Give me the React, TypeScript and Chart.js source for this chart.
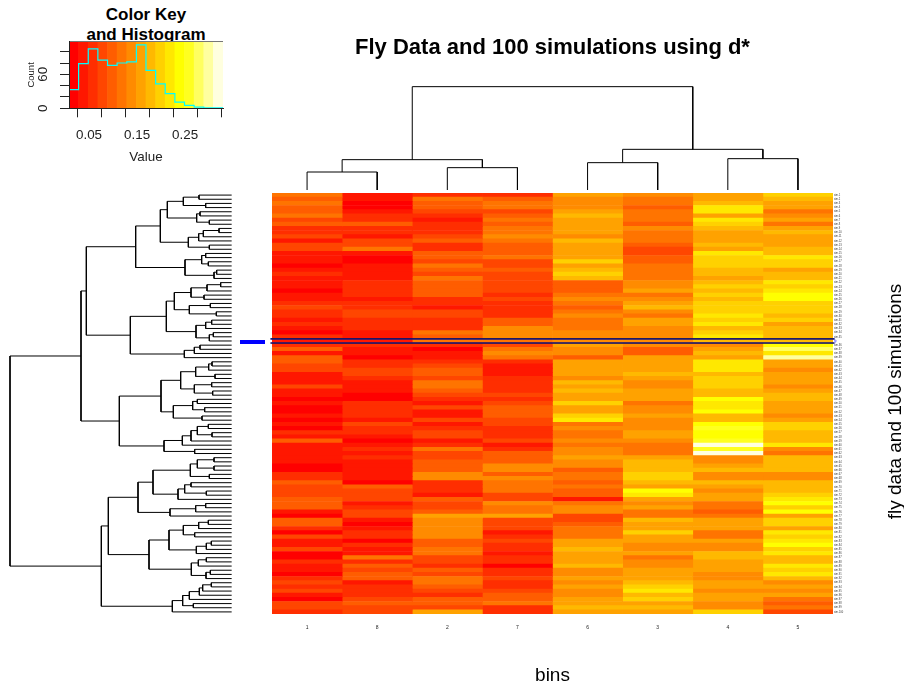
import React, { useEffect, useRef } from "react";
import { Chart, registerables } from "chart.js";

Chart.register(...registerables);

const FONT = "'Liberation Sans', Arial, Helvetica, sans-serif";

// heat.colors(16)
const heatColors = [
  "#FF0000", "#FF1700", "#FF2E00", "#FF4600", "#FF5D00", "#FF7400", "#FF8B00", "#FFA200",
  "#FFB900", "#FFD100", "#FFE800", "#FFFF00", "#FFFF20", "#FFFF60", "#FFFF9F", "#FFFFDF",
];

const columnLabels = ["1", "8", "2", "7", "6", "3", "4", "5"];
const flyRow = 35;
const rowLabels: string[] = Array.from({ length: 101 }, (_, i) =>
  i === flyRow ? "fly" : `sim.${i < flyRow ? i + 1 : i}`
);

// colour level of each cell, top row first, one list per displayed column
const bin1 = [5,4,5,4,4,5,3,4,2,2, 3,1,3,3,1,1,1,0,1,2, 1,1,1,0,1,1,2,3,2,2, 1,2,1,0,2,1,2,4,1,4, 4,3,3,1,1,1,3,1,1,0, 1,0,0,1,0,1,0,2,1,4, 1,1,1,1,1,0,0,2,2,4, 3,3,3,4,4,4,1,0,4,4, 2,0,3,1,1,3,0,0,2,1, 1,0,2,3,2,3,1,0,3,3, 2];
const bin8 = [1,1,0,0,1,2,2,4,2,2, 1,3,3,5,1,0,0,1,1,1, 1,2,2,2,2,1,2,2,3,3, 2,2,2,1,1,1,2,1,1,0, 2,2,3,3,2,1,1,1,0,0, 2,2,2,2,1,3,2,2,1,0, 1,2,1,2,1,1,1,1,1,0, 4,3,3,3,1,2,3,3,1,0, 1,2,2,0,2,1,1,5,2,4, 3,4,4,1,2,2,2,3,4,3, 3];
const bin2 = [2,5,4,4,3,2,1,2,2,2, 3,4,2,2,4,4,3,5,4,3, 5,4,4,4,4,2,2,1,3,3, 2,2,2,5,4,5,2,0,1,1, 2,3,4,4,3,5,5,4,3,2, 1,3,1,1,3,1,2,3,3,1, 2,5,3,3,4,4,4,6,6,2, 2,2,1,4,3,3,4,7,6,6, 6,6,6,4,4,5,5,3,3,2, 4,3,5,5,4,3,2,4,4,3, 7];
const bin7 = [2,4,5,5,3,4,5,4,5,5, 6,5,4,4,4,5,3,3,4,3, 3,3,3,3,2,3,2,2,2,2, 4,4,6,6,6,5,3,5,6,5, 2,1,1,1,2,2,2,2,3,2, 3,4,4,4,3,3,2,2,2,3, 1,2,4,4,4,6,6,4,6,5, 5,5,3,3,6,5,5,7,3,3, 3,1,2,3,2,2,1,2,2,0, 2,2,3,2,2,3,4,4,5,2, 2];
const bin6 = [7,6,6,6,7,8,7,7,7,7, 6,8,7,7,7,7,9,7,8,9, 8,4,4,4,5,6,5,4,5,6, 5,5,5,6,6,6,7,6,6,4, 7,7,7,7,6,8,7,8,7,7, 9,7,7,9,10,5,6,5,5,6, 5,6,6,7,6,6,4,5,5,4, 5,4,4,1,5,6,6,3,3,4, 5,5,5,7,7,8,7,7,7,8, 6,6,7,6,7,6,6,7,7,8, 7];
const bin3 = [6,5,5,4,5,5,5,4,6,5, 5,5,4,3,3,4,4,5,5,5, 5,6,6,7,5,6,7,8,6,5, 7,7,6,6,6,6,6,4,4,7, 7,7,7,8,7,6,6,7,7,7, 5,6,6,7,6,6,6,7,7,6, 5,5,5,7,8,8,8,9,9,8, 7,11,10,7,6,7,5,5,8,7, 7,9,7,7,6,6,7,5,6,6, 7,7,7,8,9,10,8,9,7,8, 7];
const bin4 = [7,7,8,10,10,7,10,9,8,7, 7,7,8,7,10,9,9,9,8,8, 7,8,9,8,9,8,9,9,9,10, 9,10,8,9,10,8,6,7,8,7, 10,10,10,8,9,9,9,8,8,11, 10,10,11,8,8,11,12,11,11,12, 15,12,15,6,6,7,8,6,6,8, 7,6,7,7,5,5,4,5,7,7, 7,5,5,7,6,6,8,8,7,7, 7,6,6,7,7,6,7,7,6,6, 9];
const bin5 = [9,8,7,7,5,6,7,5,7,8, 7,7,7,8,8,10,9,9,7,8, 8,10,9,10,11,11,9,9,9,8, 9,7,8,8,8,8,11,13,10,14, 7,7,6,7,7,7,6,7,8,8, 7,7,7,6,7,9,9,8,8,8, 10,6,5,8,8,8,8,6,6,8, 8,8,9,10,11,9,11,7,9,9, 7,10,9,10,11,9,10,8,8,10, 9,10,8,6,7,6,7,5,4,5, 3];
const heatColumns = [bin1, bin8, bin2, bin7, bin6, bin3, bin4, bin5];

// colour key histogram
const keyBreaks = [0.0083, 0.0283, 0.0484, 0.0684, 0.0885, 0.1085, 0.1286, 0.1486, 0.1686, 0.1887, 0.2087, 0.2288, 0.2488, 0.2689, 0.2889, 0.309, 0.329];
const histCounts = [33, 79, 105, 85, 76, 80, 82, 112, 67, 43, 26, 11, 5, 2, 1, 1];
const keyTop = 118;
const keyTicks = [0.05, 0.1, 0.15, 0.2, 0.25, 0.3];

// dendrograms: [height, first child, second child]; 0 is a leaf
type Tree = 0 | [number, Tree, Tree];
const colTree: Tree = [310, [91, [54, 0, 0], [67, 0, 0]], [122, [82, 0, 0], [94, 0, 0]]];

const rowBranchA: Tree = [288,
  [214,
    [193, [145, [98, 0, 0], [78, 0, 0]], [105, [95, 0, 0], [67, 0, 0]]],
    [130, [99, [85, [38, 0, 0], 0], 0], [67, 0, 0]]],
  [140, [90, [78, 0, 0], [70, 0, 0]], [53, [45, 0, 0], 0]]];
const rowBranchB: Tree = [304,
  [196,
    [172, [122, [74, [33, 0, 0], 0], [83, 0, 0]], [127, [64, 0, 0], [46, 0, 0]]],
    [107, [78, [60, 0, 0], 0], [67, [55, 0, 0], 0]]],
  [142, [112, [95, 0, 0], 0], 0]];
const rowBranchC: Tree = [337,
  [212,
    [153, [108, [69, [59, 0, 0], 0], [50, 0, 0]], [112, [60, 0, 0], [57, 0, 0]]],
    [175, [117, [103, 0, 0], [81, 0, 0]], [89, 0, 0]]],
  [203, [148, [122, [103, [70, 0, 0], [59, 0, 0]], 0], 0], [111, 0, 0]]];
const rowBranchD: Tree = [281,
  [236,
    [124, [103, [53, 0, 0], [53, 0, 0]], [67, 0, 0]],
    [161, [141, [122, 0, 0], [76, 0, 0]], 0]],
  [185, [108, [78, 0, 0], 0], 0]];
const rowBranchE: Tree = [248,
  [188,
    [145, [99, [70, 0, 0], 0], [111, 0, 0]],
    [106, [76, [61, 0, 0], 0], 0]],
  [121, [100, [76, 0, 0], 0], [77, [64, 0, 0], 0]]];
const rowBranchF: Tree = [178,
  [147, [127, [97, [87, [61, 0, 0], 0], 0], 0], [115, 0, 0]],
  0];
const rowTree: Tree = [665,
  [452, [436, rowBranchA, rowBranchB], rowBranchC],
  [391, [370, rowBranchD, rowBranchE], rowBranchF]];

const blueBar = { from: -25, to: -100, row: flyRow + 0.75 };

type Seg = [number, number][];
function flatten(tree: Tree) {
  const segs: Seg[] = [];
  let leaf = 0;
  const walk = (n: Tree): { pos: number; h: number } => {
    if (n === 0) {
      leaf += 1;
      return { pos: leaf - 0.5, h: 0 };
    }
    const a = walk(n[1]);
    const b = walk(n[2]);
    segs.push([[a.pos, a.h], [a.pos, n[0]], [b.pos, n[0]], [b.pos, b.h]]);
    return { pos: (a.pos + b.pos) / 2, h: n[0] };
  };
  walk(tree);
  return segs;
}

const lineStyle = {
  borderColor: "#000",
  borderWidth: 1,
  pointRadius: 0,
  showLine: true,
  tension: 0,
  fill: false,
};

const fixedWidth = (w: number) => (scale: any) => {
  scale.width = w;
  scale.paddingTop = 0;
  scale.paddingBottom = 0;
};
const fixedHeight = (h: number) => (scale: any) => {
  scale.height = h;
  scale.paddingLeft = 0;
  scale.paddingRight = 0;
};

const flyLines = {
  id: "flyLines",
  afterDatasetsDraw(chart: any) {
    const { ctx, scales } = chart;
    const step = scales.y.height / rowLabels.length;
    const c = scales.y.getPixelForValue(flyRow);
    const x0 = chart.chartArea.left - 1.5;
    const x1 = chart.chartArea.right + 1.5;
    ctx.save();
    [c - step / 2, c + step / 2].forEach((y: number) => {
      ctx.beginPath();
      ctx.moveTo(x0, y);
      ctx.lineTo(x1, y);
      ctx.strokeStyle = "rgba(40,40,220,0.9)";
      ctx.lineWidth = 1.6;
      ctx.stroke();
      ctx.beginPath();
      ctx.moveTo(x0, y);
      ctx.lineTo(x1, y);
      ctx.strokeStyle = "#000";
      ctx.lineWidth = 0.8;
      ctx.stroke();
    });
    ctx.restore();
  },
};

const rightLabel = {
  id: "rightLabel",
  afterDraw(chart: any) {
    const { ctx, chartArea } = chart;
    ctx.save();
    ctx.translate(626, (chartArea.top + chartArea.bottom) / 2 - 2);
    ctx.rotate(-Math.PI / 2);
    ctx.font = `19px ${FONT}`;
    ctx.fillStyle = "#000";
    ctx.textAlign = "center";
    ctx.textBaseline = "middle";
    ctx.fillText("fly data and 100 simulations", 0, 0);
    ctx.restore();
  },
};

export default function App() {
  const heatRef = useRef<HTMLCanvasElement>(null);
  const rowRef = useRef<HTMLCanvasElement>(null);
  const colRef = useRef<HTMLCanvasElement>(null);
  const keyRef = useRef<HTMLCanvasElement>(null);

  useEffect(() => {
    const charts: Chart[] = [];

    charts.push(new Chart(heatRef.current!, {
      type: "bar",
      data: {
        labels: rowLabels,
        datasets: heatColumns.map((levels, i) => ({
          label: columnLabels[i],
          data: levels.map(() => 1),
          backgroundColor: levels.map((l) => heatColors[l]),
          borderWidth: 0,
          barPercentage: 1,
          categoryPercentage: 1,
        })),
      },
      options: {
        indexAxis: "y",
        responsive: false,
        animation: false,
        devicePixelRatio: 1,
        layout: { padding: { left: 2, top: 0, right: 0, bottom: 0 } },
        plugins: { legend: { display: false }, tooltip: { enabled: false } },
        scales: {
          x: {
            type: "linear",
            stacked: true,
            min: 0,
            max: 8,
            grid: { display: false, drawTicks: false },
            border: { display: false },
            afterFit: fixedHeight(73),
            afterBuildTicks: (s: any) => { s.ticks = columnLabels.map((_, i) => ({ value: i + 0.5 })); },
            ticks: {
              autoSkip: false,
              maxRotation: 0,
              padding: 11,
              color: "#222",
              font: { family: FONT, size: 5 },
              callback: (_v: any, i: number) => columnLabels[i],
            },
            title: { display: true, text: "bins", color: "#000", font: { family: FONT, size: 19 }, padding: { top: 0, bottom: 0 } },
          },
          y: {
            type: "category",
            position: "right",
            stacked: true,
            offset: true,
            grid: { display: false, drawTicks: false },
            border: { display: false },
            afterFit: fixedWidth(71),
            ticks: {
              autoSkip: false,
              padding: 1,
              font: { family: FONT, size: 2.6 },
              color: (c: any) => (c.index === flyRow ? "#00f" : "#333"),
            },
          },
        },
      },
      plugins: [flyLines, rightLabel],
    } as any));

    const rowSegs = flatten(rowTree);
    charts.push(new Chart(rowRef.current!, {
      type: "scatter",
      data: {
        datasets: [
          ...rowSegs.map((s) => ({ ...lineStyle, data: s.map(([pos, h]) => ({ x: h, y: pos })) })),
          {
            ...lineStyle,
            borderColor: "#0000FF",
            borderWidth: 4,
            data: [{ x: blueBar.from, y: blueBar.row }, { x: blueBar.to, y: blueBar.row }],
          },
        ],
      },
      options: {
        responsive: false,
        animation: false,
        devicePixelRatio: 1,
        plugins: { legend: { display: false }, tooltip: { enabled: false } },
        scales: {
          x: { type: "linear", display: false, reverse: true, min: -115, max: 695 },
          y: { type: "linear", display: false, reverse: true, min: 0, max: 101 },
        },
      },
    } as any));

    const colSegs = flatten(colTree);
    charts.push(new Chart(colRef.current!, {
      type: "scatter",
      data: {
        datasets: colSegs.map((s) => ({ ...lineStyle, data: s.map(([pos, h]) => ({ x: pos, y: h })) })),
      },
      options: {
        responsive: false,
        animation: false,
        devicePixelRatio: 1,
        plugins: {
          legend: { display: false },
          tooltip: { enabled: false },
          title: {
            display: true,
            text: "Fly Data and 100 simulations using d*",
            color: "#000",
            font: { family: FONT, size: 22, weight: "bold", lineHeight: 1.2 },
            padding: { top: 35, bottom: 18.6 },
          },
        },
        scales: {
          x: { type: "linear", display: false, min: 0, max: 8 },
          y: { type: "linear", display: false, min: 0, max: 330 },
        },
      },
    } as any));

    charts.push(new Chart(keyRef.current!, {
      type: "bar",
      data: {
        datasets: [
          {
            type: "line",
            order: 0,
            data: [...histCounts, histCounts[histCounts.length - 1]].map((c, i) => ({ x: keyBreaks[i], y: c })),
            borderColor: "#00FFFF",
            borderWidth: 1.2,
            pointRadius: 0,
            stepped: true,
          },
          {
            type: "line",
            order: 0,
            data: [{ x: keyBreaks[0], y: keyTop }, { x: keyBreaks[16], y: keyTop }],
            borderColor: "#777",
            borderWidth: 1,
            pointRadius: 0,
            clip: false,
          },
          {
            type: "bar",
            order: 1,
            data: heatColors.map((_, i) => ({ x: (keyBreaks[i] + keyBreaks[i + 1]) / 2, y: keyTop })),
            backgroundColor: heatColors,
            borderWidth: 0,
            barPercentage: 1,
            categoryPercentage: 1,
          },
        ],
      },
      options: {
        responsive: false,
        animation: false,
        devicePixelRatio: 1,
        layout: { padding: { left: 0, top: 41.5, right: 17, bottom: 0 } },
        plugins: { legend: { display: false }, tooltip: { enabled: false } },
        scales: {
          x: {
            type: "linear",
            min: keyBreaks[0],
            max: keyBreaks[16],
            offset: false,
            afterFit: fixedHeight(71.7),
            afterBuildTicks: (s: any) => { s.ticks = keyTicks.map((value) => ({ value })); },
            grid: { display: true, drawOnChartArea: false, drawTicks: true, tickLength: 9, tickColor: "#222", z: 1 },
            border: { display: true, color: "#222", width: 1, z: 1 },
            ticks: {
              autoSkip: false,
              maxRotation: 0,
              padding: 10,
              color: "#222",
              font: { family: FONT, size: 13.4 },
              callback: (v: any, i: number) => (i % 2 === 0 ? Number(v).toFixed(2) : ""),
            },
            title: { display: true, text: "Value", color: "#222", font: { family: FONT, size: 13.4 }, padding: { top: 0, bottom: 15 } },
          },
          y: {
            type: "linear",
            min: 0,
            max: keyTop,
            afterFit: fixedWidth(69),
            afterBuildTicks: (s: any) => { s.ticks = [0, 20, 40, 60, 80, 100].map((value) => ({ value })); },
            grid: { display: true, drawOnChartArea: false, drawTicks: true, tickLength: 9, tickColor: "#222", z: 1 },
            border: { display: true, color: "#222", width: 1, z: 1 },
            ticks: {
              autoSkip: false,
              minRotation: 90,
              maxRotation: 90,
              crossAlign: "center",
              align: "end",
              color: "#222",
              font: { family: FONT, size: 13.4 },
              callback: (v: any) => (v === 0 || v === 60 ? String(v) : ""),
            },
            title: { display: true, text: "Count", color: "#222", font: { family: FONT, size: 9.5 }, padding: { top: 26, bottom: 0 } },
          },
        },
      },
    } as any));

    return () => charts.forEach((c) => c.destroy());
  }, []);

  const place = (left: number, top: number): React.CSSProperties => ({ position: "absolute", left, top, display: "block" });

  return (
    <div style={{ position: "absolute", left: 0, top: 0, width: 904, height: 687, background: "#fff", overflow: "hidden" }}>
      <canvas ref={colRef} width={561} height={190} style={place(272, 0)} />
      <canvas ref={rowRef} width={270} height={421} style={place(0, 193)} />
      <canvas ref={heatRef} width={634} height={494} style={place(270, 193)} />
      <div style={{ position: "absolute", left: 46, top: 5, width: 200, textAlign: "center", fontFamily: FONT, fontWeight: "bold", fontSize: 17, lineHeight: "20px", color: "#000" }}>
        Color Key<br />and Histogram
      </div>
      <canvas ref={keyRef} width={240} height={180} style={place(0, 0)} />
    </div>
  );
}
